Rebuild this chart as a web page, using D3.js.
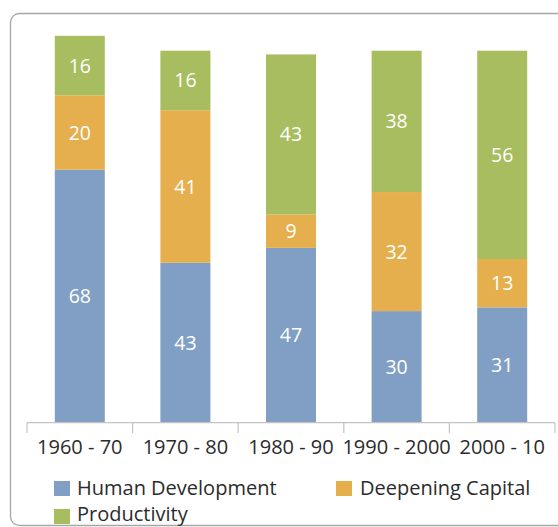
<!DOCTYPE html>
<html>
<head>
<meta charset="utf-8">
<script src="https://cdn.jsdelivr.net/npm/d3@7"></script>
<style>
  html, body { margin: 0; padding: 0; background: #fff; }
  svg { display: block; }
</style>
</head>
<body>
<svg id="chart" width="558" height="527"></svg>
<script>
const categories = ["1960 - 70", "1970 - 80", "1980 - 90", "1990 - 2000", "2000 - 10"];
const seriesNames = ["Human Development", "Deepening Capital", "Productivity"];
const humanDevelopment = [68, 43, 47, 30, 31];
const deepeningCapital = [20, 41, 9, 32, 13];
const productivity = [16, 16, 43, 38, 56];
const colors = ["#819fc4", "#e5af4d", "#a7bd5f"];

const rows = categories.map((c, i) => ({
  cat: c,
  "Human Development": humanDevelopment[i],
  "Deepening Capital": deepeningCapital[i],
  "Productivity": productivity[i]
}));

const svg = d3.select("#chart");
const font = "'Open Sans', 'Noto Sans', sans-serif";

// frame
svg.append("rect")
  .attr("x", 10.5).attr("y", 13.5)
  .attr("width", 600).attr("height", 512)
  .attr("rx", 9).attr("ry", 9)
  .attr("fill", "none").attr("stroke", "#a6a6a6").attr("stroke-width", 1.3);

const x = d3.scaleBand().domain(categories).range([27, 555]).paddingInner(0).paddingOuter(0);
const y = d3.scaleLinear().domain([0, 100]).range([422.7, 50.7]);
const barW = 50;

const stack = d3.stack().keys(seriesNames)(rows);

const g = svg.append("g");
stack.forEach((layer, li) => {
  layer.forEach((d, i) => {
    const cx = x(categories[i]) + x.bandwidth() / 2;
    g.append("rect")
      .attr("x", cx - barW / 2)
      .attr("y", y(d[1]))
      .attr("width", barW)
      .attr("height", y(d[0]) - y(d[1]))
      .attr("fill", colors[li]);
    g.append("text")
      .attr("x", cx)
      .attr("y", (y(d[0]) + y(d[1])) / 2)
      .attr("dy", "0.36em")
      .attr("text-anchor", "middle")
      .attr("fill", "#fff")
      .attr("font-family", font)
      .attr("font-size", 19.5)
      .text(d[1] - d[0]);
  });
});

// axis
const axisG = svg.append("g");
axisG.append("line")
  .attr("x1", 27).attr("x2", 555)
  .attr("y1", 422.7).attr("y2", 422.7)
  .attr("stroke", "#c4c4c4").attr("stroke-width", 1.2);
const bounds = categories.map(c => x(c)).concat([x(categories[categories.length - 1]) + x.bandwidth()]);
bounds.forEach(b => {
  axisG.append("line")
    .attr("x1", b).attr("x2", b)
    .attr("y1", 422.7).attr("y2", 433)
    .attr("stroke", "#c4c4c4").attr("stroke-width", 1.2);
});
categories.forEach(c => {
  axisG.append("text")
    .attr("x", x(c) + x.bandwidth() / 2)
    .attr("y", 453.5)
    .attr("text-anchor", "middle")
    .attr("fill", "#2b2b2b")
    .attr("font-family", font)
    .attr("font-size", 20)
    .text(c);
});

// legend
const legendItems = [
  { name: seriesNames[0], color: colors[0], sx: 54, sy: 481, tx: 77, ty: 494.5 },
  { name: seriesNames[1], color: colors[1], sx: 336, sy: 481, tx: 360, ty: 494.5 },
  { name: seriesNames[2], color: colors[2], sx: 54, sy: 509, tx: 77, ty: 521 }
];
legendItems.forEach(l => {
  svg.append("rect")
    .attr("x", l.sx).attr("y", l.sy)
    .attr("width", 16).attr("height", 15)
    .attr("fill", l.color);
  svg.append("text")
    .attr("x", l.tx).attr("y", l.ty)
    .attr("fill", "#2b2b2b")
    .attr("font-family", font)
    .attr("font-size", 20)
    .text(l.name);
});
</script>
</body>
</html>
